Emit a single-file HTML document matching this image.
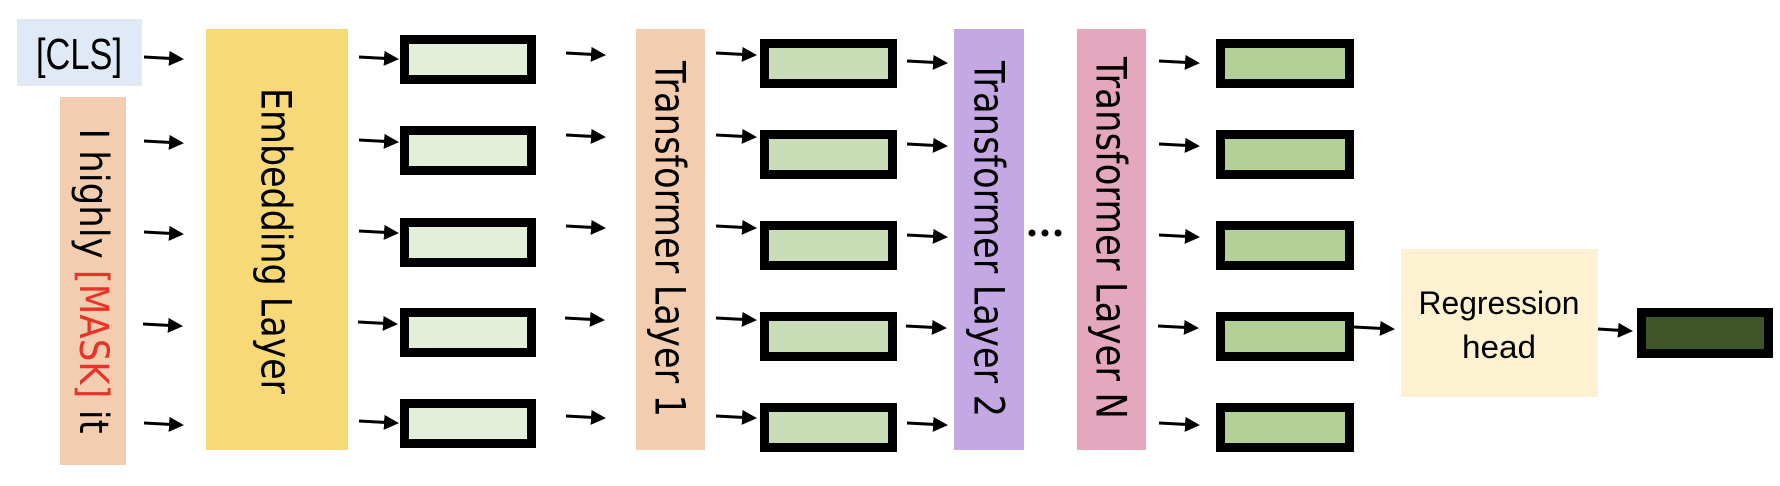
<!DOCTYPE html>
<html><head><meta charset="utf-8"><style>html,body{margin:0;padding:0;background:#fff}svg{display:block}</style></head>
<body>
<svg width="1780" height="486" viewBox="0 0 1780 486" xmlns="http://www.w3.org/2000/svg">
<defs>
<marker id="ah" markerWidth="5" markerHeight="5" refX="4" refY="2.5" orient="auto" markerUnits="strokeWidth">
<path d="M0,0 L5,2.5 L0,5 z" fill="#000"/>
</marker>
</defs>
<rect x="17" y="19" width="125" height="67" fill="#dfeaf6"/>
<text x="79" y="69" font-family="Liberation Sans, sans-serif" font-size="44" text-anchor="middle" textLength="86" lengthAdjust="spacingAndGlyphs" fill="#000">[CLS]</text>
<rect x="60" y="97" width="66" height="368" fill="#f2cdb0"/>
<text transform="translate(93,281) rotate(90)" font-family="DejaVu Sans, sans-serif" font-size="40" text-anchor="middle" dominant-baseline="central" textLength="305" lengthAdjust="spacingAndGlyphs" fill="#000">I highly <tspan fill="#e8322a">[MASK]</tspan> it</text>
<rect x="206" y="29" width="142" height="421" fill="#f8d978"/>
<text transform="translate(276,241) rotate(90)" font-family="DejaVu Sans, sans-serif" font-size="42" text-anchor="middle" dominant-baseline="central" textLength="306" lengthAdjust="spacingAndGlyphs" fill="#000">Embedding Layer</text>
<rect x="636" y="29" width="69" height="421" fill="#f2cdb0"/>
<text transform="translate(670,239) rotate(90)" font-family="DejaVu Sans, sans-serif" font-size="42" text-anchor="middle" dominant-baseline="central" textLength="356" lengthAdjust="spacingAndGlyphs" fill="#000">Transformer Layer 1</text>
<rect x="954" y="29" width="70" height="421" fill="#c3a8e3"/>
<text transform="translate(989,239) rotate(90)" font-family="DejaVu Sans, sans-serif" font-size="42" text-anchor="middle" dominant-baseline="central" textLength="356" lengthAdjust="spacingAndGlyphs" fill="#000">Transformer Layer 2</text>
<rect x="1077" y="29" width="69" height="421" fill="#e4a7bd"/>
<text transform="translate(1111,238) rotate(90)" font-family="DejaVu Sans, sans-serif" font-size="42" text-anchor="middle" dominant-baseline="central" textLength="362" lengthAdjust="spacingAndGlyphs" fill="#000">Transformer Layer N</text>
<circle cx="1032" cy="233" r="3.5" fill="#000"/><circle cx="1045" cy="233" r="3.5" fill="#000"/><circle cx="1058" cy="233" r="3.5" fill="#000"/>
<g stroke="#000" stroke-width="9">
<rect x="404.5" y="39.5" width="127" height="40" fill="#e3efd9"/>
<rect x="404.5" y="130.5" width="127" height="40" fill="#e3efd9"/>
<rect x="404.5" y="222.5" width="127" height="40" fill="#e3efd9"/>
<rect x="404.5" y="312.5" width="127" height="40" fill="#e3efd9"/>
<rect x="404.5" y="403.5" width="127" height="40" fill="#e3efd9"/>
<rect x="764.5" y="43.5" width="128" height="40" fill="#c9deb6"/>
<rect x="764.5" y="134.5" width="128" height="40" fill="#c9deb6"/>
<rect x="764.5" y="225.5" width="128" height="40" fill="#c9deb6"/>
<rect x="764.5" y="316.5" width="128" height="40" fill="#c9deb6"/>
<rect x="764.5" y="407.5" width="128" height="40" fill="#c9deb6"/>
<rect x="1220.5" y="43.5" width="129" height="40" fill="#b3d096"/>
<rect x="1220.5" y="134.5" width="129" height="40" fill="#b3d096"/>
<rect x="1220.5" y="225.5" width="129" height="40" fill="#b3d096"/>
<rect x="1220.5" y="316.5" width="129" height="40" fill="#b3d096"/>
<rect x="1220.5" y="407.5" width="129" height="40" fill="#b3d096"/>
<rect x="1641.5" y="312.5" width="127" height="41" fill="#3e5429"/>
</g>
<rect x="1401" y="249" width="197" height="148" fill="#fcf1d0"/>
<text x="1499" y="314" font-family="Liberation Sans, sans-serif" font-size="32" text-anchor="middle" textLength="161" lengthAdjust="spacingAndGlyphs" fill="#000">Regression</text>
<text x="1499" y="358" font-family="Liberation Sans, sans-serif" font-size="32" text-anchor="middle" textLength="74" lengthAdjust="spacingAndGlyphs" fill="#000">head</text>
<g stroke="#000" stroke-width="3" marker-end="url(#ah)">
<line x1="144" y1="57" x2="181" y2="59"/>
<line x1="144" y1="141" x2="181" y2="143"/>
<line x1="144" y1="232" x2="181" y2="234"/>
<line x1="143" y1="324" x2="180" y2="326"/>
<line x1="144" y1="423" x2="181" y2="425"/>
<line x1="359" y1="57" x2="396" y2="59"/>
<line x1="359" y1="140" x2="396" y2="142"/>
<line x1="359" y1="231" x2="396" y2="233"/>
<line x1="358" y1="322" x2="395" y2="324"/>
<line x1="359" y1="421" x2="396" y2="423"/>
<line x1="566" y1="53" x2="603" y2="55"/>
<line x1="566" y1="135" x2="603" y2="137"/>
<line x1="566" y1="226" x2="603" y2="228"/>
<line x1="565" y1="318" x2="602" y2="320"/>
<line x1="566" y1="416" x2="603" y2="418"/>
<line x1="716" y1="53" x2="754" y2="55"/>
<line x1="716" y1="135" x2="754" y2="137"/>
<line x1="716" y1="226" x2="754" y2="228"/>
<line x1="716" y1="318" x2="754" y2="320"/>
<line x1="716" y1="416" x2="754" y2="418"/>
<line x1="907" y1="61" x2="945" y2="63"/>
<line x1="907" y1="144" x2="945" y2="146"/>
<line x1="907" y1="235" x2="945" y2="237"/>
<line x1="906" y1="326" x2="944" y2="328"/>
<line x1="907" y1="423" x2="945" y2="425"/>
<line x1="1159" y1="61" x2="1197" y2="63"/>
<line x1="1159" y1="144" x2="1197" y2="146"/>
<line x1="1159" y1="235" x2="1197" y2="237"/>
<line x1="1158" y1="326" x2="1196" y2="328"/>
<line x1="1159" y1="423" x2="1197" y2="425"/>
<line x1="1354" y1="327" x2="1392" y2="329"/>
<line x1="1598" y1="329" x2="1630" y2="331"/>
</g>
</svg>
</body></html>
